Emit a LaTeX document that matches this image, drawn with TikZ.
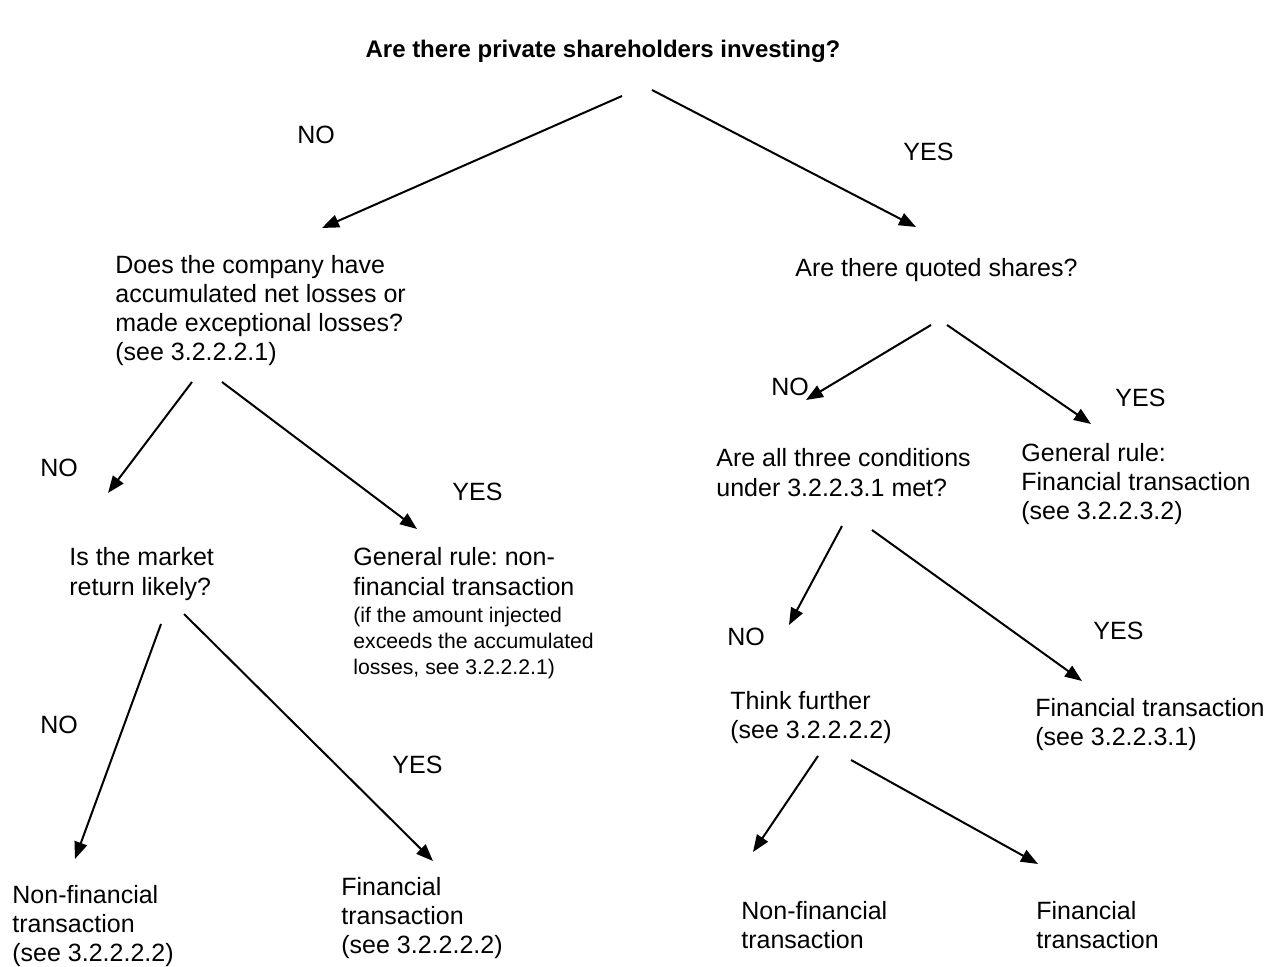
\documentclass[tikz,border=0pt]{standalone}
\usepackage{fontspec}
\setmainfont{Liberation Sans}
\usetikzlibrary{arrows.meta}
\frenchspacing
\begin{document}
\begin{tikzpicture}[x=0.5pt,y=-0.5pt,
  txt/.style={anchor=base west,inner sep=0pt,align=left,font=\fontsize{12.5pt}{14.5pt}\selectfont},
  small/.style={anchor=base west,inner sep=0pt,align=left,font=\fontsize{10.6pt}{13pt}\selectfont},
  arr/.style={line width=1pt,-{Triangle[length=8.5pt,width=6.5pt]}}]
\useasboundingbox (0,0) rectangle (1284,967);
% texts (anchor = baseline of the last line)
\node[anchor=base,inner sep=0pt,font=\fontsize{12pt}{14pt}\selectfont\bfseries] (title) at (603,58) {Are there private shareholders investing?};
\node[txt] (no1) at (297,144) {NO};
\node[txt] (yes1) at (903,161) {YES};
\node[txt] (q1) at (115,361) {Does the company have\\accumulated net losses or\\made exceptional losses?\\(see 3.2.2.2.1)};
\node[txt] (q2) at (795,277) {Are there quoted shares?};
\node[txt] (no2) at (40,477) {NO};
\node[txt] (yes2) at (452,501) {YES};
\node[txt] (q3) at (69,595) {Is the market\\return likely?};
\node[txt] (gr1) at (353,595) {General rule: non-\\financial transaction};
\node[small] (gr1n) at (353,674) {(if the amount injected\\exceeds the accumulated\\losses, see 3.2.2.2.1)};
\node[txt] (no3) at (40,733) {NO};
\node[txt] (yes3) at (392,773) {YES};
\node[txt] (nf1) at (12,961) {Non-financial\\transaction\\(see 3.2.2.2.2)};
\node[txt] (f1) at (341,953) {Financial\\transaction\\(see 3.2.2.2.2)};
\node[txt] (no4) at (771,396) {NO};
\node[txt] (yes4) at (1115,407) {YES};
\node[txt] (q4) at (716,496) {Are all three conditions\\under 3.2.2.3.1 met?};
\node[txt] (gr2) at (1021,520) {General rule:\\Financial transaction\\(see 3.2.2.3.2)};
\node[txt] (no5) at (727,645) {NO};
\node[txt] (yes5) at (1093,639) {YES};
\node[txt] (tf) at (730,738) {Think further\\(see 3.2.2.2.2)};
\node[txt] (f2) at (1035,745) {Financial transaction\\(see 3.2.2.3.1)};
\node[txt] (nf3) at (741,948) {Non-financial\\transaction};
\node[txt] (f3) at (1036,948) {Financial\\transaction};
% connector end points
\coordinate (a1s) at (622,96);  \coordinate (a1e) at (322,228);
\coordinate (a2s) at (652,90);  \coordinate (a2e) at (916,227);
\coordinate (a3s) at (931,325); \coordinate (a3e) at (806,400);
\coordinate (a4s) at (947,325); \coordinate (a4e) at (1091,424);
\coordinate (a5s) at (192,382); \coordinate (a5e) at (108,493);
\coordinate (a6s) at (222,382); \coordinate (a6e) at (417,529);
\coordinate (a7s) at (842,526); \coordinate (a7e) at (789,625);
\coordinate (a8s) at (872,530); \coordinate (a8e) at (1082,681);
\coordinate (a9s) at (161,624); \coordinate (a9e) at (75,859);
\coordinate (a10s) at (184,614); \coordinate (a10e) at (433,861);
\coordinate (a11s) at (818,756); \coordinate (a11e) at (753,852);
\coordinate (a12s) at (851,760); \coordinate (a12e) at (1038,864);
\draw[arr] (a1s) -- (a1e);
\draw[arr] (a2s) -- (a2e);
\draw[arr] (a3s) -- (a3e);
\draw[arr] (a4s) -- (a4e);
\draw[arr] (a5s) -- (a5e);
\draw[arr] (a6s) -- (a6e);
\draw[arr] (a7s) -- (a7e);
\draw[arr] (a8s) -- (a8e);
\draw[arr] (a9s) -- (a9e);
\draw[arr] (a10s) -- (a10e);
\draw[arr] (a11s) -- (a11e);
\draw[arr] (a12s) -- (a12e);
\end{tikzpicture}
\end{document}
